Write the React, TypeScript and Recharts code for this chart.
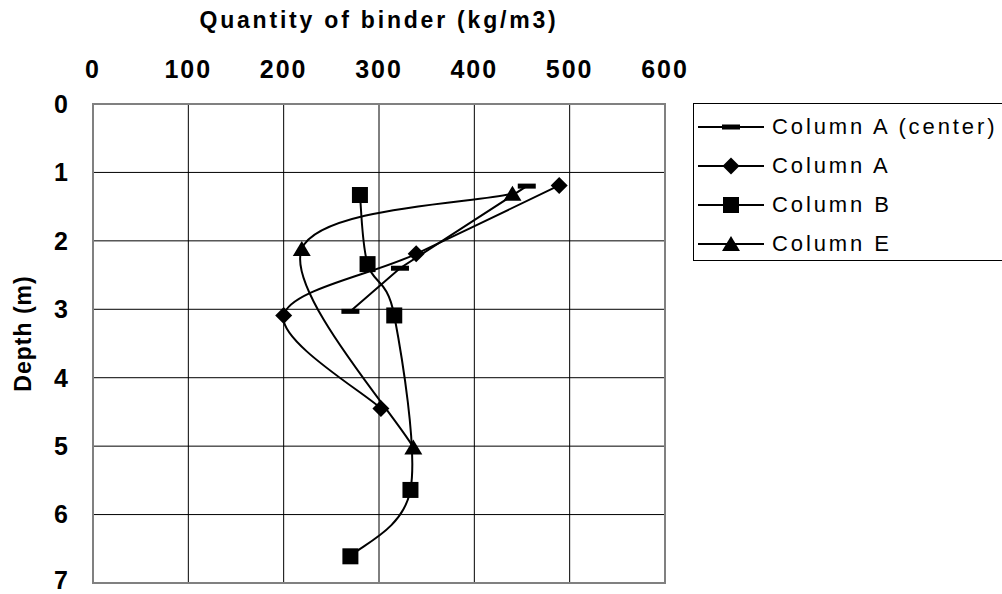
import React from "react";
import {
  ScatterChart,
  Scatter,
  XAxis,
  YAxis,
  CartesianGrid,
  ReferenceArea,
} from "recharts";

const FONT = "'Liberation Sans', Arial, sans-serif";

// depth (m) and quantity of binder (kg/m3)
const centerDepth = [1.2, 2.4, 3.03];
const centerBinder = [455, 322, 270];
const colADepth = [1.19, 2.19, 3.09, 4.45];
const colABinder = [489, 339, 200, 302];
const colBDepth = [1.33, 2.34, 3.09, 5.64, 6.61];
const colBBinder = [280, 288, 316, 333, 270];
const colEDepth = [1.31, 2.12, 5.02];
const colEBinder = [440, 219, 336];

const binderTicks = [0, 100, 200, 300, 400, 500, 600];
const depthTicks = [0, 1, 2, 3, 4, 5, 6, 7];
const seriesNames = ["Column A (center)", "Column A", "Column B", "Column E"];

const toPoints = (depth: number[], binder: number[]) =>
  depth.map((d, i) => ({ x: binder[i], y: d }));

// Excel-like smoothed line (Catmull-Rom through every point)
function smoothCurve(context: any) {
  let pts: number[][] = [];
  return {
    areaStart() {},
    areaEnd() {},
    lineStart() {
      pts = [];
    },
    point(x: number, y: number) {
      pts.push([+x, +y]);
    },
    lineEnd() {
      const n = pts.length;
      if (!n) return;
      context.moveTo(pts[0][0], pts[0][1]);
      for (let i = 0; i < n - 1; i++) {
        const p0 = pts[Math.max(i - 1, 0)];
        const p1 = pts[i];
        const p2 = pts[i + 1];
        const p3 = pts[Math.min(i + 2, n - 1)];
        context.bezierCurveTo(
          p1[0] + (p2[0] - p0[0]) / 6,
          p1[1] + (p2[1] - p0[1]) / 6,
          p2[0] - (p3[0] - p1[0]) / 6,
          p2[1] - (p3[1] - p1[1]) / 6,
          p2[0],
          p2[1]
        );
      }
    },
  };
}

const Marker = ({ kind, cx, cy }: { kind: number; cx: number; cy: number }) => {
  if (kind === 0) return <rect x={cx - 9} y={cy - 2.5} width={18} height={5} fill="#000" />;
  if (kind === 1)
    return <polygon points={`${cx},${cy - 8.5} ${cx + 8.5},${cy} ${cx},${cy + 8.5} ${cx - 8.5},${cy}`} fill="#000" />;
  if (kind === 2) return <rect x={cx - 8} y={cy - 8} width={16} height={16} fill="#000" />;
  return <polygon points={`${cx},${cy - 8} ${cx + 9},${cy + 7} ${cx - 9},${cy + 7}`} fill="#000" />;
};

const shapeFor = (kind: number) => (p: any) => <Marker kind={kind} cx={p.cx} cy={p.cy} />;

const SeriesLegend = () => (
  <div
    style={{
      position: "absolute",
      left: 693,
      top: 103,
      width: 320,
      height: 158,
      border: "1px solid #000",
      boxSizing: "border-box",
      background: "#fff",
      paddingTop: 3,
    }}
  >
    {seriesNames.map((name, i) => (
      <div key={name} style={{ display: "flex", alignItems: "center", height: 39 }}>
        <svg width={78} height={20} style={{ flexShrink: 0 }}>
          <line x1={4} y1={10} x2={70} y2={10} stroke="#000" strokeWidth={2} />
          <Marker kind={i} cx={37} cy={10} />
        </svg>
        <span style={{ fontFamily: FONT, fontSize: 22, letterSpacing: 2.9, color: "#000", whiteSpace: "nowrap" }}>
          {name}
        </span>
      </div>
    ))}
  </div>
);

const tickStyle = { fontSize: 25, fontWeight: "bold", fill: "#000", fontFamily: FONT, letterSpacing: 2 };

export default function App() {
  return (
    <div
      style={{
        position: "absolute",
        left: 0,
        top: 0,
        width: 1002,
        height: 594,
        overflow: "hidden",
        background: "#fff",
      }}
    >
      <ScatterChart width={1002} height={594} margin={{ top: 0, right: 337, bottom: 11, left: 0 }}>
        <CartesianGrid stroke="#000" strokeWidth={1} />
        <XAxis
          type="number"
          dataKey="x"
          orientation="top"
          domain={[0, 600]}
          ticks={binderTicks}
          height={104}
          axisLine={false}
          tickLine={false}
          tickSize={0}
          tickMargin={26}
          tick={tickStyle}
          label={(props: any) => {
            const vb = props.viewBox;
            return (
              <text
                x={vb.x + vb.width / 2}
                y={28}
                textAnchor="middle"
                fontFamily={FONT}
                fontSize={23}
                fontWeight="bold"
                letterSpacing={2.8}
                fill="#000"
              >
                Quantity of binder (kg/m3)
              </text>
            );
          }}
        />
        <YAxis
          type="number"
          dataKey="y"
          reversed
          domain={[0, 7]}
          ticks={depthTicks}
          width={93}
          axisLine={false}
          tickLine={false}
          tickSize={0}
          tickMargin={23}
          tick={tickStyle}
          label={(props: any) => {
            const vb = props.viewBox;
            const cy = vb.y + vb.height / 2 - 10;
            return (
              <text
                x={31}
                y={cy}
                transform={`rotate(-90, 31, ${cy})`}
                textAnchor="middle"
                fontFamily={FONT}
                fontSize={23}
                fontWeight="bold"
                letterSpacing={1}
                fill="#000"
              >
                Depth (m)
              </text>
            );
          }}
        />
        <ReferenceArea x1={0} x2={600} y1={0} y2={7} fill="none" stroke="#808080" strokeWidth={2} />
        <Scatter
          name={seriesNames[0]}
          data={toPoints(centerDepth, centerBinder)}
          fill="#000"
          line={{ stroke: "#000", strokeWidth: 2 }}
          lineType="joint"
          lineJointType="linear"
          shape={shapeFor(0)}
          isAnimationActive={false}
        />
        <Scatter
          name={seriesNames[1]}
          data={toPoints(colADepth, colABinder)}
          fill="#000"
          line={{ stroke: "#000", strokeWidth: 2 }}
          lineType="joint"
          lineJointType={smoothCurve as any}
          shape={shapeFor(1)}
          isAnimationActive={false}
        />
        <Scatter
          name={seriesNames[2]}
          data={toPoints(colBDepth, colBBinder)}
          fill="#000"
          line={{ stroke: "#000", strokeWidth: 2 }}
          lineType="joint"
          lineJointType={smoothCurve as any}
          shape={shapeFor(2)}
          isAnimationActive={false}
        />
        <Scatter
          name={seriesNames[3]}
          data={toPoints(colEDepth, colEBinder)}
          fill="#000"
          line={{ stroke: "#000", strokeWidth: 2 }}
          lineType="joint"
          lineJointType={smoothCurve as any}
          shape={shapeFor(3)}
          isAnimationActive={false}
        />
      </ScatterChart>
      <SeriesLegend />
    </div>
  );
}
